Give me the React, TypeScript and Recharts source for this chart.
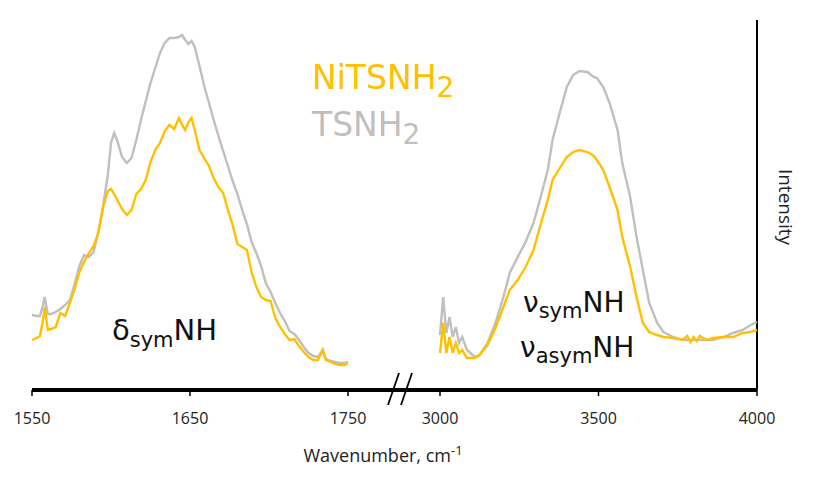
import { LineChart, Line, XAxis, YAxis, ReferenceLine } from "recharts";

// wavenumbers (cm-1) for the low-frequency window
const leftWn = [
  1550, 1553, 1555, 1557, 1558, 1560, 1562, 1565, 1568, 1571, 1574, 1577, 1580, 1583, 1586, 1589,
  1592, 1595, 1598, 1600, 1602, 1604, 1607, 1610, 1613, 1616, 1619, 1622, 1625, 1628, 1631, 1634,
  1637, 1640, 1643, 1645, 1647, 1649, 1651, 1653, 1656, 1659, 1662, 1665, 1668, 1671, 1674, 1677,
  1680, 1683, 1686, 1689, 1692, 1695, 1698, 1701, 1704, 1707, 1710, 1713, 1716, 1719, 1722, 1725,
  1728, 1731, 1734, 1736, 1739, 1742, 1745, 1748, 1750,
];
const leftTs = [
  75, 74, 74, 85, 93, 76, 76, 78, 81, 85, 90, 106, 124, 135, 133, 138,
  158, 184, 215, 247, 257, 249, 233, 227, 232, 250, 270, 289, 307, 322, 337, 347,
  352, 352, 353, 355, 350, 346, 349, 343, 324, 304, 287, 270, 254, 239, 224, 209,
  196, 180, 166, 148, 137, 124, 107, 98, 87, 77, 69, 59, 56, 50, 43, 37,
  34, 33, 40, 31, 29, 28, 27, 27, 28,
];
const leftNi = [
  50, 52, 54, 70, 83, 60, 61, 63, 77, 74, 87, 101, 118, 128, 137, 144,
  157, 183, 199, 201, 196, 190, 181, 175, 180, 196, 201, 210, 228, 240, 247, 259,
  265, 261, 272, 265, 260, 268, 272, 260, 240, 232, 224, 212, 203, 197, 180, 165,
  146, 143, 140, 118, 103, 93, 90, 89, 72, 63, 56, 50, 51, 44, 38, 33,
  30, 30, 40, 30, 28, 26, 25, 25, 27,
];

// wavenumbers (cm-1) for the high-frequency window
const rightWn = [
  3000, 3010, 3020, 3030, 3040, 3050, 3060, 3070, 3085, 3110, 3125, 3150, 3175, 3200, 3220, 3245,
  3270, 3295, 3315, 3340, 3355, 3380, 3400, 3420, 3440, 3465, 3485, 3495, 3515, 3535, 3560, 3575,
  3600, 3620, 3640, 3660, 3685, 3705, 3735, 3765, 3780, 3790, 3800, 3810, 3820, 3830, 3845, 3860,
  3895, 3925, 3955, 3980, 4000,
];
const rightTs = [
  55, 93, 57, 73, 53, 63, 47, 53, 40, 33, 35, 47, 67, 93, 117, 133,
  148, 167, 190, 220, 250, 280, 303, 315, 319, 318, 313, 312, 303, 287, 260, 227,
  193, 153, 120, 87, 67, 58, 53, 50, 50, 50, 50, 50, 50, 50, 50, 50,
  53, 57, 60, 65, 68,
];
const rightNi = [
  37, 67, 37, 53, 37, 47, 37, 40, 32, 32, 35, 45, 62, 83, 100, 110,
  123, 140, 163, 190, 210, 223, 233, 238, 240, 238, 234, 230, 220, 203, 180, 153,
  123, 93, 67, 58, 55, 53, 52, 50, 54, 48, 53, 49, 54, 52, 50, 52,
  53, 53, 57, 58, 60,
];

const tickWn = [1550, 1650, 1750, 3000, 3500, 4000];

const GOLD = "#FFC000";
const GREY = "#BFBFBF";

// broken axis: both windows share one continuous coordinate
const axisPos = (w: number) => (w < 2000 ? (w - 1550) * 1.58 : 408 + (w - 3000) * 0.317);
const AXIS_MAX = axisPos(4000);
const tickPos = tickWn.map(axisPos);

const data = [
  ...leftWn.map((w, i) => ({ x: axisPos(w), ts: leftTs[i], ni: leftNi[i] })),
  { x: (axisPos(1750) + axisPos(3000)) / 2, ts: null, ni: null },
  ...rightWn.map((w, i) => ({ x: axisPos(w), ts: rightTs[i], ni: rightNi[i] })),
];

const BX = 356; // where the break marks sit on the axis

export default function App() {
  return (
    <div style={{ position: "absolute", left: 0, top: 0, width: 831, height: 480, background: "#fff" }}>
      <LineChart width={831} height={480} data={data} margin={{ top: 20, right: 74, bottom: 60, left: 32 }}>
        <XAxis
          type="number"
          dataKey="x"
          domain={[0, AXIS_MAX]}
          ticks={tickPos}
          interval={0}
          height={30}
          tickFormatter={(v: number) => String(tickWn[tickPos.indexOf(v)])}
          axisLine={{ stroke: "#000", strokeWidth: 4 }}
          tickLine={{ stroke: "#000", strokeWidth: 1.5 }}
          tickSize={6}
          tickMargin={17}
          tick={{ fill: "#222", fontSize: 16, fontFamily: "Open Sans" }}
        />
        <YAxis hide domain={[0, 370]} allowDataOverflow />
        <ReferenceLine x={AXIS_MAX} stroke="#000" strokeWidth={2} />
        <ReferenceLine
          segment={[{ x: BX + 6, y: -6 }, { x: BX + 10, y: 6 }]}
          ifOverflow="visible"
          stroke="#fff"
          strokeWidth={11}
        />
        <ReferenceLine
          segment={[{ x: BX, y: -15 }, { x: BX + 11, y: 17 }]}
          ifOverflow="visible"
          stroke="#000"
          strokeWidth={1.8}
        />
        <ReferenceLine
          segment={[{ x: BX + 13, y: -15 }, { x: BX + 24, y: 17 }]}
          ifOverflow="visible"
          stroke="#000"
          strokeWidth={1.8}
        />
        <Line type="linear" dataKey="ts" stroke={GREY} strokeWidth={2.4} dot={false} isAnimationActive={false} />
        <Line type="linear" dataKey="ni" stroke={GOLD} strokeWidth={2.4} dot={false} isAnimationActive={false} />
      </LineChart>
      <svg
        width={831}
        height={480}
        style={{ position: "absolute", left: 0, top: 0, pointerEvents: "none" }}
        fontFamily="DejaVu Sans"
      >
        <text x={312} y={89} fontSize={33} fill={GOLD}>
          NiTSNH<tspan dy={8} fontSize={28}>2</tspan>
        </text>
        <text x={312} y={136} fontSize={33} fill={GREY}>
          TSNH<tspan dy={8} fontSize={28}>2</tspan>
        </text>
        <text x={112} y={340} fontSize={29} fill="#111">
          δ<tspan dy={7} fontSize={21}>sym</tspan>
          <tspan dy={-7}>NH</tspan>
        </text>
        <text x={523} y={312} fontSize={28} fill="#111">
          ν<tspan dy={6} fontSize={21}>sym</tspan>
          <tspan dy={-6}>NH</tspan>
        </text>
        <text x={520} y={357} fontSize={28} fill="#111">
          ν<tspan dy={6} fontSize={21}>asym</tspan>
          <tspan dy={-6}>NH</tspan>
        </text>
        <text x={383} y={462} fontSize={18} fontFamily="Open Sans" textAnchor="middle" fill="#222">
          Wavenumber, cm<tspan dy={-7} fontSize={13}>-1</tspan>
        </text>
        <text
          transform="translate(779,207) rotate(90)"
          fontSize={19}
          fontFamily="Open Sans"
          textAnchor="middle"
          fill="#222"
        >
          Intensity
        </text>
      </svg>
    </div>
  );
}
